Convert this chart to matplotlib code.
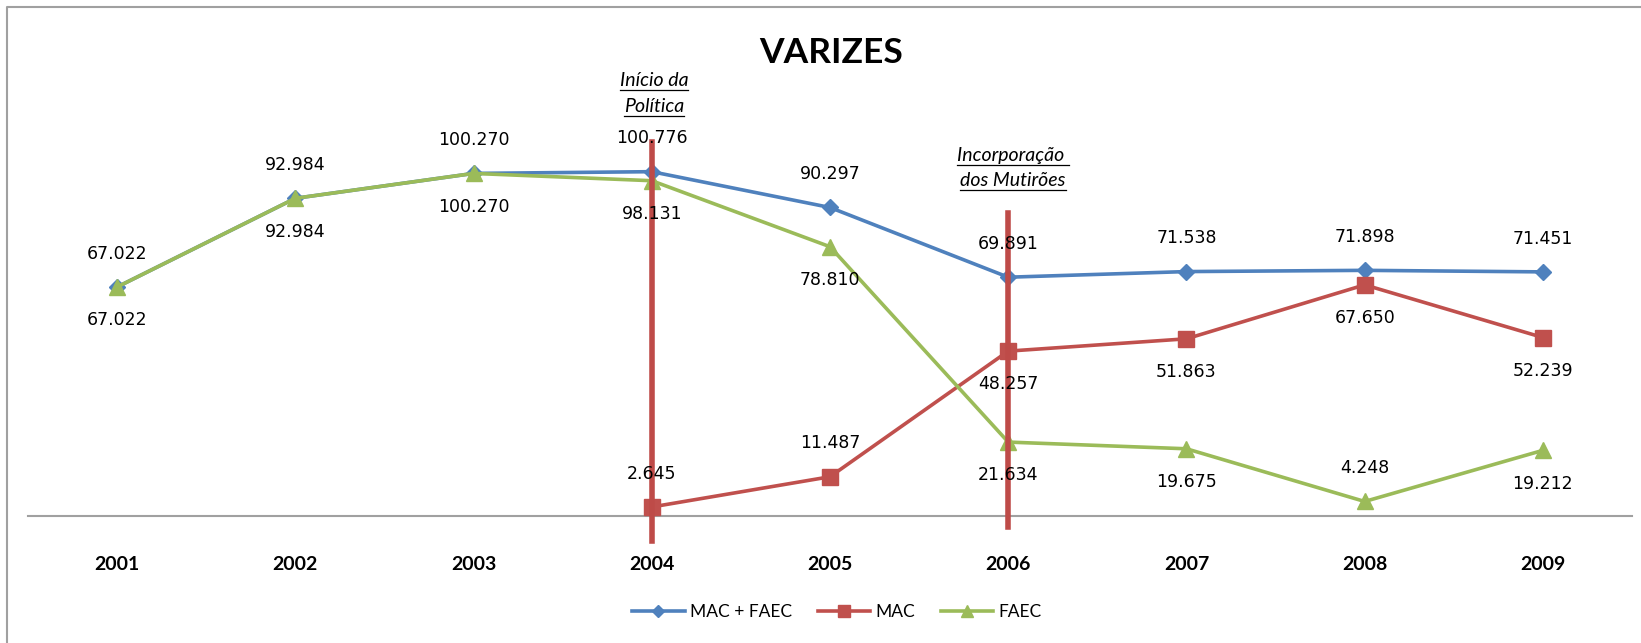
import numpy as np
import matplotlib
matplotlib.use("Agg")
import matplotlib.pyplot as plt
from matplotlib.lines import Line2D

# ---------- Dados (milhares) ----------
anos = ["2001", "2002", "2003", "2004", "2005", "2006", "2007", "2008", "2009"]
mac_faec = [67.022, 92.984, 100.270, 100.776, 90.297, 69.891, 71.538, 71.898, 71.451]
mac = [np.nan, np.nan, np.nan, 2.645, 11.487, 48.257, 51.863, 67.650, 52.239]
faec = [67.022, 92.984, 100.270, 98.131, 78.810, 21.634, 19.675, 4.248, 19.212]

# posição dos rótulos: +1 acima, -1 abaixo
pos_mac_faec = [1, 1, 1, 1, 1, 1, 1, 1, 1]
pos_mac = [0, 0, 0, 1, 1, -1, -1, -1, -1]
pos_faec = [-1, -1, -1, -1, -1, -1, -1, 1, -1]

# marcos (ano, texto, topo, base da linha vertical)
marcos = [(3, "Início da\nPolítica", 109.5, -7.3),
          (5, "Incorporação \ndos Mutirões", 88.7, -3.1)]

AZUL = "#4F81BD"
VERM = "#C0504D"
VERDE = "#9BBB59"

W, H, DPI = 1641, 643, 100
fig = plt.figure(figsize=(W / DPI, H / DPI), dpi=DPI)
fig.patch.set_facecolor("white")
ax = fig.add_axes([28 / W, 1 - 516 / H, (1632 - 28) / W, (516 - 106) / H])

x = np.arange(len(anos))
ax.plot(x, mac_faec, color=AZUL, lw=2.6, marker="D", ms=8, zorder=3)
ax.plot(x, mac, color=VERM, lw=2.6, marker="s", ms=11, zorder=3)
ax.plot(x, faec, color=VERDE, lw=2.6, marker="^", ms=11, zorder=3)

def rotulos(vals, pos):
    for xi, v, p in zip(x, vals, pos):
        if np.isnan(v) or p == 0:
            continue
        ax.annotate(f"{v:.3f}", (xi, v), xytext=(0, 24 * p), textcoords="offset points",
                    ha="center", va="center", fontsize=12.5, family="DejaVu Sans", zorder=5)

rotulos(mac_faec, pos_mac_faec)
rotulos(mac, pos_mac)
rotulos(faec, pos_faec)

# linhas verticais dos marcos
for xi, txt, y0, y1 in marcos:
    ax.plot([xi, xi], [y1, y0], color="#BE4B48", lw=4, clip_on=False, zorder=4)

ax.set_xlim(-0.5, len(anos) - 0.5)
ax.set_ylim(0, 120)
ax.set_xticks(x)
ax.set_xticklabels(anos, fontsize=14, fontweight="bold", family="Lato")
ax.tick_params(axis="x", length=0, pad=29)
ax.set_yticks([])
for s in ["top", "right", "left"]:
    ax.spines[s].set_visible(False)
ax.spines["bottom"].set_color("#A0A0A0")
ax.spines["bottom"].set_linewidth(1.5)

fig.text(831 / W, 1 - 53 / H, "VARIZES", ha="center", va="center",
         fontsize=25.5, fontweight="bold", family="Lato")

# textos dos marcos (itálico sublinhado)
fig.canvas.draw()
r = fig.canvas.get_renderer()
pos_txt = [(654, [80, 106]), (1013, [155, 180])]
for (xi, txt, _, _), (px, ys) in zip(marcos, pos_txt):
    for linha, py in zip(txt.split("\n"), ys):
        t = fig.text(px / W, 1 - py / H, linha, ha="center", va="center",
                     fontsize=14, style="italic", family="Lato")
        bb = t.get_window_extent(r)
        yl = (bb.y0 - 1) / H
        fig.add_artist(Line2D([bb.x0 / W, bb.x1 / W], [yl, yl], color="black", lw=0.9))

# legenda
h = [Line2D([], [], color=AZUL, lw=2.6, marker="D", ms=6),
     Line2D([], [], color=VERM, lw=2.6, marker="s", ms=8),
     Line2D([], [], color=VERDE, lw=2.6, marker="^", ms=8)]
fig.legend(h, ["MAC + FAEC", "MAC", "FAEC"], loc="center", bbox_to_anchor=(837 / W, 1 - 612 / H),
           ncol=3, frameon=False, prop={"family": "Lato", "size": 12.5},
           handlelength=3, handletextpad=0.3, columnspacing=1.5)

# moldura do gráfico (só topo e esquerda visíveis)
fig.add_artist(Line2D([7 / W, 7 / W, 1], [0, 1 - 7 / H, 1 - 7 / H], color="#A0A0A0", lw=1.5))

fig.savefig("out.png", dpi=DPI)
